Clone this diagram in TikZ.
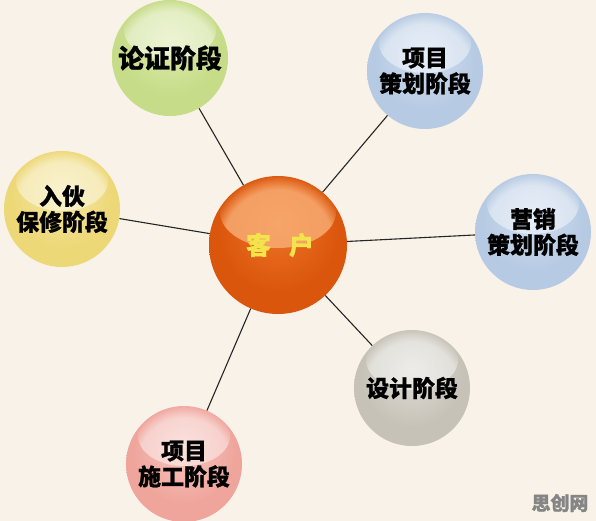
\documentclass[tikz,border=0pt]{standalone}
\usepackage{fontspec}
\newfontfamily\cjk{Noto Sans CJK SC}[BoldFeatures={FakeBold=1}]
\usetikzlibrary{fadings}
\definecolor{bgc}{HTML}{F8F2E8}
\definecolor{gA}{HTML}{DDEBAE}\definecolor{gB}{HTML}{C6DC88}\definecolor{gC}{HTML}{9EB65A}
\definecolor{bA}{HTML}{D2E0F0}\definecolor{bB}{HTML}{B6CAE3}\definecolor{bC}{HTML}{869FC2}
\definecolor{yA}{HTML}{F5E8A6}\definecolor{yB}{HTML}{EDD877}\definecolor{yC}{HTML}{CDB24A}
\definecolor{sA}{HTML}{E0DDD6}\definecolor{sB}{HTML}{C6C2B8}\definecolor{sC}{HTML}{8C887E}
\definecolor{pA}{HTML}{F8C8C0}\definecolor{pB}{HTML}{EFA59C}\definecolor{pC}{HTML}{CF7A70}
\definecolor{oA}{HTML}{EE7428}\definecolor{oB}{HTML}{DA560C}\definecolor{oC}{HTML}{8A3300}
\definecolor{oH}{HTML}{FBB57E}
\definecolor{kh}{HTML}{F4E44C}
\newcommand\mkball[4]{\pgfdeclareradialshading{#1}{\pgfpoint{0bp}{8bp}}{color(0bp)=(#2); color(22bp)=(#3); color(40bp)=(#3); color(52bp)=(#4); color(60bp)=(#4)}}
\mkball{sgreen}{gA}{gB}{gC}
\mkball{sblue}{bA}{bB}{bC}
\mkball{syellow}{yA}{yB}{yC}
\mkball{sgray}{sA}{sB}{sC}
\mkball{spink}{pA}{pB}{pC}
\mkball{sorange}{oA}{oB}{oC}
\tikzset{
  ball/.style={circle, minimum size=116bp, inner sep=0pt, align=center,
    font=\cjk\bfseries\fontsize{23}{26}\selectfont, text=black,
    path picture={\fill[white, path fading=circle with fuzzy edge 20 percent, opacity=0.45]
      ([yshift=-30bp]path picture bounding box.north) ellipse (46bp and 30bp);}},
  hub/.style={circle, minimum size=138bp, inner sep=0pt, shading=sorange,
    font=\cjk\bfseries\fontsize{25}{28}\selectfont, text=kh,
    path picture={\fill[oH, path fading=circle with fuzzy edge 20 percent, opacity=0.75]
      ([yshift=-36bp]path picture bounding box.north) ellipse (58bp and 36bp);}},
  link/.style={draw=black!85, line width=1.1bp}
}
\begin{document}
\begin{tikzpicture}[x=1bp,y=-1bp]
\fill[bgc] (0,0) rectangle (596,521);
\useasboundingbox (0,0) rectangle (596,521);
\node[hub] (kh) at (278,245) {\raisebox{-4bp}{\hspace{4bp}客\hspace{18bp}户}};
\node[ball, shading=sgreen, font=\cjk\bfseries\fontsize{26}{28}\selectfont] (lz) at (170,58) {论证阶段};
\node[ball, shading=sblue] (xm) at (425,71) {项目\\策划阶段};
\node[ball, shading=sblue] (yx) at (533,232) {营销\\策划阶段};
\node[ball, shading=sgray] (sj) at (412,388) {设计阶段};
\node[ball, shading=spink] (sg) at (184,464) {项目\\施工阶段};
\node[ball, shading=syellow] (rh) at (62,209) {入伙\\保修阶段};
\draw[link] (kh) -- (lz);
\draw[link] (kh) -- (xm);
\draw[link] (kh) -- (yx);
\draw[link] (kh) -- (sj);
\draw[link] (kh) -- (sg);
\draw[link] (kh) -- (rh);
\node[font=\cjk\bfseries\fontsize{19}{19}\selectfont, text=black!48] (wm) at (560,503) {思创网};
\end{tikzpicture}
\end{document}
